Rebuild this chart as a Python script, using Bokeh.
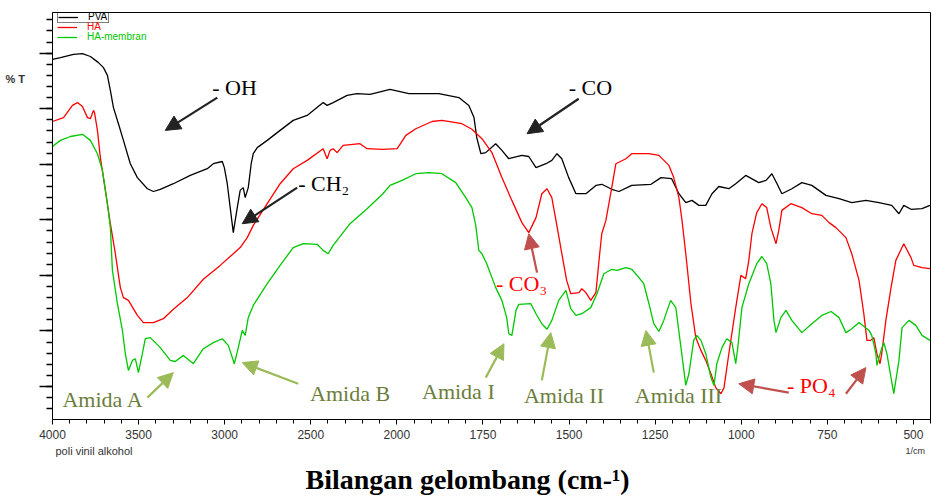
from bokeh.plotting import figure
from bokeh.models import Range1d, FixedTicker, Label, Arrow, NormalHead, Legend, LegendItem, Title
from bokeh.embed import file_html
from bokeh.resources import INLINE

# ---------------- data (wavenumber cm-1, %T) ----------------
pva_wn = [4000, 3954, 3878, 3826, 3780, 3733, 3704, 3681, 3664, 3646, 3617, 3588, 3548, 3507, 3449,
          3414, 3374, 3298, 3200, 3101, 3066, 3014, 3002, 2985, 2968, 2950, 2927, 2910, 2892, 2881,
          2863, 2846, 2834, 2811, 2753, 2678, 2602, 2521, 2428, 2405, 2370, 2289, 2231, 2156, 2040,
          1965, 1878, 1820, 1791, 1776, 1768, 1756, 1742, 1713, 1695, 1675, 1637, 1617, 1596, 1567,
          1550, 1535, 1521, 1501, 1480, 1451, 1422, 1405, 1376, 1355, 1318, 1262, 1233, 1202, 1181,
          1161, 1143, 1123, 1103, 1085, 1065, 1036, 1016, 987, 949, 928, 911, 896, 882, 853,
          824, 795, 754, 716, 679, 638, 600, 563, 542, 528, 507, 475, 452]
pva_t = [68.9, 69.2, 69.8, 69.9, 69.4, 68.3, 67.4, 66.0, 63.3, 60.2, 57.3, 54.3, 50.1, 47.6, 45.6,
         45.1, 45.5, 46.5, 48.0, 49.2, 50.1, 50.5, 49.4, 46.5, 42.2, 37.7, 42.2, 45.3, 45.8, 44.0,
         45.8, 50.1, 51.9, 53.0, 54.3, 56.1, 57.9, 58.8, 61.1, 60.6, 61.1, 62.4, 62.7, 62.6, 63.5,
         62.7, 62.7, 62.0, 60.6, 58.4, 54.8, 51.9, 52.1, 53.7, 52.5, 51.0, 51.6, 51.4, 49.4, 50.1,
         50.7, 51.9, 51.0, 47.6, 44.7, 44.7, 46.2, 46.4, 45.5, 45.1, 46.2, 46.4, 47.6, 47.4, 44.7,
         43.1, 43.5, 42.6, 42.6, 44.7, 46.0, 45.6, 46.5, 48.0, 46.7, 47.1, 48.3, 46.5, 44.7, 45.6,
         46.7, 46.2, 44.4, 43.8, 43.1, 43.5, 43.1, 42.6, 41.1, 42.6, 41.9, 42.0, 42.6]

ha_wn = [4000, 3936, 3884, 3855, 3826, 3797, 3780, 3762, 3756, 3739, 3722, 3693, 3664, 3635, 3606,
         3588, 3559, 3507, 3472, 3414, 3356, 3298, 3217, 3124, 3026, 2950, 2910, 2869, 2834, 2753,
         2678, 2602, 2521, 2428, 2405, 2388, 2370, 2347, 2312, 2214, 2173, 2081, 1999, 1974, 1945,
         1898, 1869, 1811, 1782, 1753, 1724, 1695, 1666, 1637, 1617, 1596, 1579, 1564, 1550, 1538,
         1521, 1507, 1495, 1471, 1463, 1451, 1437, 1422, 1413, 1405, 1393, 1376, 1364, 1335, 1318,
         1268, 1239, 1210, 1196, 1181, 1172, 1161, 1146, 1132, 1117, 1103, 1088, 1074, 1059, 1050,
         1036, 1016, 1001, 987, 978, 969, 955, 940, 926, 914, 899, 891, 882, 856, 824,
         795, 766, 745, 725, 696, 679, 658, 644, 635, 624, 615, 606, 597, 592, 580,
         565, 551, 528, 507, 499, 475, 452]
ha_t = [57.7, 58.4, 60.6, 61.1, 60.4, 58.4, 58.2, 59.7, 59.3, 56.1, 51.2, 45.3, 39.3, 33.9, 27.8,
        26.0, 25.5, 22.8, 21.5, 21.5, 22.2, 23.9, 26.0, 29.3, 31.8, 33.9, 35.0, 36.8, 39.0, 42.9,
        46.5, 49.2, 50.7, 52.8, 51.0, 52.5, 52.8, 52.1, 53.4, 53.7, 52.8, 52.7, 52.8, 55.2, 56.4,
        57.7, 57.9, 57.3, 56.3, 54.6, 52.1, 47.6, 43.5, 39.5, 37.7, 40.4, 44.7, 45.6, 44.0, 39.9,
        33.9, 29.1, 26.7, 26.9, 27.6, 26.9, 25.5, 26.9, 32.7, 37.5, 39.9, 45.8, 50.1, 51.0, 51.9,
        51.9, 51.6, 49.8, 47.6, 44.0, 39.9, 33.9, 24.9, 18.8, 16.5, 14.7, 12.3, 9.8, 8.7, 9.8,
        15.9, 24.2, 30.0, 29.4, 32.7, 37.5, 41.3, 42.9, 42.2, 38.6, 35.7, 38.1, 41.7, 42.9, 42.2,
        41.1, 40.8, 39.5, 38.6, 36.8, 33.9, 29.1, 23.1, 18.3, 18.3, 18.8, 15.9, 14.1, 15.9, 21.9,
        27.8, 32.7, 35.7, 33.2, 31.8, 31.4, 31.2]

mem_wn = [4000, 3954, 3896, 3826, 3780, 3739, 3710, 3681, 3664, 3652, 3623, 3594, 3577, 3559, 3536,
          3519, 3501, 3478, 3461, 3432, 3374, 3316, 3287, 3240, 3182, 3124, 3066, 3014, 2979, 2944,
          2921, 2898, 2881, 2863, 2834, 2753, 2678, 2602, 2544, 2463, 2428, 2399, 2370, 2272, 2173,
          2081, 2040, 1985, 1945, 1907, 1869, 1829, 1800, 1782, 1771, 1762, 1753, 1739, 1713, 1695,
          1681, 1675, 1666, 1654, 1646, 1611, 1596, 1579, 1564, 1550, 1530, 1509, 1495, 1480, 1463,
          1437, 1419, 1399, 1376, 1361, 1335, 1318, 1297, 1283, 1268, 1254, 1239, 1225, 1205, 1190,
          1175, 1161, 1152, 1138, 1129, 1117, 1103, 1088, 1079, 1071, 1056, 1042, 1027, 1016, 1010,
          998, 978, 955, 940, 926, 914, 905, 899, 885, 870, 853, 824, 795, 766, 739,
          716, 696, 679, 658, 629, 621, 609, 606, 594, 586, 577, 557, 542, 533, 513,
          493, 475, 452]
mem_t = [53.2, 54.3, 55.0, 55.4, 54.3, 51.9, 48.9, 42.9, 38.6, 30.9, 24.9, 20.1, 15.9, 12.9, 14.7,
         15.0, 12.5, 15.9, 18.6, 18.8, 17.0, 14.7, 14.5, 15.6, 14.1, 16.8, 17.9, 18.6, 17.4, 14.1,
         17.0, 20.1, 19.2, 22.4, 24.6, 28.5, 31.8, 35.0, 35.7, 35.6, 34.5, 33.9, 35.4, 39.3, 42.0,
         44.7, 46.2, 47.1, 48.3, 48.5, 48.3, 46.7, 44.0, 42.2, 39.0, 34.5, 33.9, 32.1, 27.8, 25.5,
         22.4, 19.5, 19.2, 23.7, 24.8, 24.9, 23.1, 21.3, 20.3, 21.9, 25.5, 27.3, 24.0, 22.8, 23.1,
         24.2, 26.7, 30.3, 31.1, 30.9, 31.4, 31.1, 29.6, 28.5, 24.9, 21.3, 19.9, 21.9, 25.5, 24.2,
         17.0, 10.2, 12.3, 18.3, 19.2, 18.3, 15.9, 11.6, 10.2, 14.1, 17.0, 18.6, 17.9, 14.1, 17.0,
         24.2, 28.5, 32.1, 33.4, 32.1, 28.5, 21.9, 19.7, 22.4, 23.7, 21.9, 19.7, 21.3, 22.8, 23.5,
         22.4, 19.7, 20.4, 21.5, 20.1, 19.2, 15.9, 13.8, 16.5, 17.9, 15.9, 8.7, 14.7, 20.6, 21.9,
         21.0, 19.2, 18.3]

tick_labels = ["4000", "3500", "3000", "2500", "2000", "1750", "1500",
               "1250", "1000", "750", "500"]
series_names = ["PVA", "HA", "HA-membran"]


# wavenumber axis of the instrument: 500 cm-1 per division above 2000, 250 below
def to_u(w):
    return (4000 - w) / 500.0 if w >= 2000 else 4.0 + (2000 - w) / 250.0


p = figure(width=931, height=499, output_backend="svg", toolbar_location=None,
           x_range=Range1d(0, 10.21), y_range=Range1d(4.06, 77.32),
           min_border_left=52, min_border_right=0, min_border_top=12, min_border_bottom=80,
           background_fill_color="white", border_fill_color="white")
p.xgrid.visible = False
p.ygrid.visible = False
p.outline_line_color = "black"
p.outline_line_width = 1

# x axis
p.xaxis.ticker = FixedTicker(ticks=list(range(11)), minor_ticks=[i * 0.2 for i in range(52)])
p.xaxis.major_label_overrides = {i: t for i, t in enumerate(tick_labels)}
p.xaxis.major_tick_in = 0
p.xaxis.major_tick_out = 5
p.xaxis.minor_tick_in = 0
p.xaxis.minor_tick_out = 4
p.xaxis.axis_line_color = "black"
p.xaxis.major_tick_line_color = "black"
p.xaxis.minor_tick_line_color = "black"
p.xaxis.major_label_text_font = "Liberation Sans"
p.xaxis.major_label_text_font_size = "12px"
p.xaxis.major_label_text_color = "#333333"
p.xaxis.major_label_standoff = 5

# y axis (no labels)
p.yaxis.ticker = FixedTicker(ticks=[10, 20, 30, 40, 50, 60, 70],
                             minor_ticks=[4 + 2 * i for i in range(37)])
p.yaxis.major_tick_in = 0
p.yaxis.major_tick_out = 13
p.yaxis.minor_tick_in = 0
p.yaxis.minor_tick_out = 6
p.yaxis.major_label_text_font_size = "0px"
p.yaxis.major_label_text_color = None
p.yaxis.axis_line_color = "black"
p.yaxis.major_tick_line_width = 1.5
p.yaxis.minor_tick_line_width = 1.5

colors = ["black", "#ff0000", "#00c800"]
r_pva = p.line([to_u(w) for w in pva_wn], pva_t, line_color=colors[0], line_width=1.3)
r_ha = p.line([to_u(w) for w in ha_wn], ha_t, line_color=colors[1], line_width=1.3)
r_mem = p.line([to_u(w) for w in mem_wn], mem_t, line_color=colors[2], line_width=1.3)

# legends (one per entry so each label has its own colour)
for name, r, c, ypos, border in [(series_names[0], r_pva, colors[0], 396, "black"),
                                 (series_names[1], r_ha, colors[1], 387, None),
                                 (series_names[2], r_mem, colors[2], 377, None)]:
    leg = Legend(items=[LegendItem(label=name, renderers=[r])], location=(5, ypos),
                 label_text_font="Liberation Sans", label_text_font_size="10px",
                 label_text_color=c, glyph_height=8, glyph_width=20, label_height=8,
                 label_standoff=10, padding=0, spacing=0, margin=0,
                 background_fill_alpha=0, border_line_color=border, border_line_width=1)
    p.add_layout(leg)

# annotations: text labels
serif = "Liberation Serif"
olive_txt = "#6b7d3c"
olive_arr = "#9bbb59"
red_arr = "#c0504d"
texts = [
    ("- OH", 3072, 63.8, "black"),
    ("- CO", 1501, 63.8, "black"),
    ("- CH\u2082", 2573, 46.5, "black"),
    ("- CO\u2083", 1712, 28.5, "#ff0000"),
    ("- PO\u2084", 867, 10.2, "#ff0000"),
    ("Amida A", 3942, 7.7, olive_txt),
    ("Amida B", 2504, 8.7, olive_txt),
    ("Amida I", 1927, 9.1, olive_txt),
    ("Amida II", 1631, 8.4, olive_txt),
    ("Amida III", 1309, 8.4, olive_txt),
]
for t, w, yv, c in texts:
    p.add_layout(Label(x=to_u(w), y=yv, text=t, text_font=serif, text_font_size="22px",
                       text_baseline="middle", text_align="left", text_color=c))

# annotations: arrows (tail -> head)
arrows = [
    (3043, 62.0, 3345, 56.1, "#222222"),
    (1472, 61.8, 1622, 55.5, "#222222"),
    (2579, 45.8, 2898, 39.3, "#222222"),
    (1593, 30.5, 1617, 37.5, red_arr),
    (862, 8.9, 1007, 10.5, red_arr),
    (696, 8.7, 638, 13.4, red_arr),
    (3449, 8.0, 3298, 12.5, olive_arr),
    (2573, 10.5, 2898, 14.3, olive_arr),
    (1742, 11.6, 1689, 17.7, olive_arr),
    (1579, 11.1, 1553, 19.7, olive_arr),
    (1254, 12.5, 1277, 20.1, olive_arr),
]
for w0, y0, w1, y1, c in arrows:
    p.add_layout(Arrow(x_start=to_u(w0), y_start=y0, x_end=to_u(w1), y_end=y1,
                       line_color=c, line_width=2.2,
                       end=NormalHead(size=15, fill_color=c, line_color=c)))

# texts outside the frame: labels and titles in side panels
p.add_layout(Title(text="poli vinil alkohol", align="left", offset=3, standoff=2,
                   text_font="Liberation Sans", text_font_size="11px",
                   text_font_style="normal", text_color="#333333"), "below")
p.add_layout(Title(text="Bilangan gelombang (cm-\u00b9)", align="left", offset=253, standoff=8,
                   text_font="Liberation Serif", text_font_size="28px",
                   text_font_style="bold", text_color="black"), "below")
p.add_layout(Label(x=853, y=-438, x_units="screen", y_units="screen", text="1/cm",
                   text_font="Liberation Sans", text_font_size="9px", text_color="#333333",
                   text_baseline="middle"), "above")
p.add_layout(Label(x=-14, y=341, x_units="screen", y_units="screen", text="% T",
                   text_font="Liberation Sans", text_font_size="11px", text_font_style="bold",
                   text_color="#333333", text_baseline="middle"), "left")

open("out.html", "w").write(file_html(p, INLINE))
